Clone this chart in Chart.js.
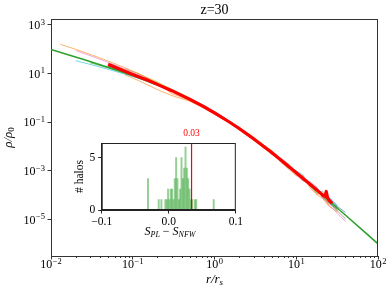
<!DOCTYPE html>
<html>
<head>
<meta charset="utf-8">
<script src="https://cdn.jsdelivr.net/npm/chart.js@4.4.0/dist/chart.umd.min.js"></script>
<style>
html,body{margin:0;padding:0;background:#fff;}
#wrap{position:relative;width:390px;height:293px;}
#main{position:absolute;left:0;top:0;}
#inset{position:absolute;left:70px;top:125px;}
</style>
</head>
<body>
<div id="wrap">
<canvas id="main" width="390" height="293"></canvas>
<canvas id="inset" width="175" height="120"></canvas>
</div>
<script>
// Perfil NFW (verde)
const nfwR = [0.01, 0.0158, 0.0251, 0.0398, 0.0631, 0.1, 0.158, 0.251, 0.398, 0.631, 1, 1.585, 2.512, 3.981, 6.31, 10, 15.85, 25.12, 39.81, 63.1, 100];
const nfwRho = [98.0, 61.1, 37.9, 23.2, 14.0, 8.26, 4.70, 2.54, 1.285, 0.596, 0.25, 0.0944, 0.0323, 0.0101, 0.00297, 8.26e-4, 2.22e-4, 5.84e-5, 1.51e-5, 3.86e-6, 9.8e-7];

// Perfil promedio (rojo)
const promR = [0.05, 0.07, 0.1, 0.15, 0.2, 0.3, 0.5, 0.7, 1, 1.5, 2, 3, 5, 7, 10, 13, 16, 19, 21, 22.5, 23.3, 24.2, 25.5, 27.5];
const promRho = [24, 15, 9.2, 5.4, 3.6, 1.98, 0.87, 0.48, 0.24, 0.104, 0.055, 0.0207, 0.0056, 0.00225, 8.3e-4, 3.95e-4, 2.2e-4, 1.35e-4, 1.0e-4, 8.8e-5, 1.4e-4, 7.5e-5, 5.9e-5, 4.5e-5];

// Halos individuales (líneas finas)
const radios = [0.013, 0.02, 0.03, 0.05, 0.08, 0.12, 0.2, 0.3, 0.5, 0.8, 1.2, 2, 3, 4, 5, 6.5, 8, 10, 12, 15, 18, 21, 25, 32, 40];
const halo1 = [160, 100, 62, 33, 17.5, 9.8, 4.1, 1.5, 0.78, 0.33, 0.146, 0.062, 0.0245, 0.0085, 0.0069, 0.0022, 0.0012, 6.2e-4, 6.4e-4, 1.8e-4, 1.08e-4, 1.18e-4, 3.8e-5, null, null];
const halo2 = [null, 88, 55, 29, 15.5, 8.9, 4.0, 2.15, 0.98, 0.43, 0.19, 0.050, 0.0183, 0.0115, 0.0047, 0.0033, 0.00185, 6.6e-4, 3.9e-4, 3.4e-4, 2.1e-4, 7.4e-5, 4.1e-5, 1.7e-5, 8.2e-6];
const halo3 = [null, 34, 24, 15, 9.5, 6.2, 3.3, 1.85, 0.82, 0.425, 0.186, 0.061, 0.0233, 0.009, 0.0064, 0.0024, 0.00131, 9.9e-4, 6.9e-4, 2.2e-4, 1.23e-4, 1.42e-4, 8.3e-5, 3.7e-5, null];
const halo4 = [null, null, 28, 17, 10.2, 6.4, 3.4, 1.96, 0.845, 0.355, 0.162, 0.060, 0.0187, 0.011, 0.0062, 0.0025, 0.0017, 7.8e-4, 4.2e-4, 3.1e-4, 1.9e-4, 7.8e-5, 5.0e-5, 2.6e-5, null];
const halo5 = [null, null, null, null, 16, 9.5, 4.6, 2.3, 1.0, 0.425, 0.186, 0.051, 0.0233, 0.0088, 0.005, 0.00315, 0.00182, 7.0e-4, 5.9e-4, 2.1e-4, 1.15e-4, 1.18e-4, 7.4e-5, 2.3e-5, null];
const halo6 = [null, null, null, 20, 12, 7.3, 3.6, 1.85, 0.83, 0.367, 0.181, 0.061, 0.0225, 0.0095, 0.0061, 0.00247, 0.00135, 9.5e-4, 5.9e-4, 2.2e-4, 1.85e-4, 8.3e-5, 4.7e-5, 2.2e-5, null];
const halo7 = [null, null, null, 19, 11.2, 6.9, 3.5, 2.02, 0.93, 0.41, 0.162, 0.053, 0.0191, 0.0105, 0.005, 0.003, 0.00172, 7.3e-4, 4.2e-4, 3.0e-4, 1.39e-4, 1.08e-4, 6.8e-5, 3.4e-5, 1.9e-5];
const halo8 = [null, null, null, null, 9.0, 5.0, 2.2, 1.25, 0.72, 0.347, 0.158, 0.058, 0.0233, 0.0115, 0.0067, 0.003, 0.00192, 9.1e-4, 4.0e-4, 2.7e-4, 1.0e-4, 7.4e-5, 3.5e-5, 2.0e-5, null];
const halo9 = [null, null, null, 21, 12.4, 7.5, 3.7, 2.05, 0.91, 0.37, 0.169, 0.057, 0.0198, 0.0095, 0.005, 0.00288, 0.00146, 9.3e-4, 5.2e-4, 2.3e-4, 1.9e-4, 9.3e-5, 7.7e-5, 3.0e-5, null];
const halo10 = [null, null, null, null, 11.5, 7.0, 3.55, 1.94, 0.87, 0.398, 0.177, 0.0545, 0.0212, 0.0097, 0.0058, 0.0026, 0.00142, 8.7e-4, 4.5e-4, 2.9e-4, 1.42e-4, 1.08e-4, 5.6e-5, 2.2e-5, 1.04e-5];
const halo11 = [null, null, null, 20.5, 12, 7.2, 3.6, 2.0, 0.89, 0.378, 0.172, 0.0567, 0.0202, 0.0108, 0.0061, 0.00266, 0.00162, 7.6e-4, 5.5e-4, 2.5e-4, 1.7e-4, 8.6e-5, 5.0e-5, null, null];
const halos = [halo1, halo2, halo3, halo4, halo5, halo6, halo7, halo8, halo9, halo10, halo11];
const coloresHalos = ['#ff7f0e', '#e377c2', '#17becf', '#2ca02c', '#bcbd22', '#7f7f7f', '#1f77b4', '#ff7f0e', '#9467bd', '#8c564b', '#d62728'];

// Histograma del inserto
const binsS = [-0.031, -0.015, -0.011, -0.005, -0.003, -0.001, 0.001, 0.003, 0.005, 0.007, 0.009, 0.011, 0.013, 0.015, 0.017, 0.019, 0.021, 0.023, 0.025, 0.027, 0.029, 0.031, 0.033, 0.035, 0.039, 0.041, 0.067];
const conteo = [3, 1, 1, 1, 1, 2, 1, 2, 2, 1, 3, 5, 3, 1, 2, 5, 3, 4, 6, 4, 3, 2, 1, 1, 1, 1, 1];
const mediaS = 0.034;

// Etiquetas de ticks
const expY = [3, 1, -1, -3, -5];
const expX = [-2, -1, 0, 1, 2];
const ticksInsetX = [-0.1, 0, 0.1];
const ticksInsetY = [0, 5];

const serif = '"Liberation Serif", "DejaVu Serif", serif';

function alfa(hex, a) {
  const n = parseInt(hex.slice(1), 16);
  return `rgba(${n >> 16},${(n >> 8) & 255},${n & 255},${a})`;
}

function potencia(ctx, exp, x, y, align) {
  const base = '10', sup = exp < 0 ? '\u2212' + (-exp) : String(exp);
  ctx.font = `12px ${serif}`;
  const wb = ctx.measureText(base).width;
  ctx.font = `8.5px ${serif}`;
  const ws = ctx.measureText(sup).width;
  const x0 = align === 'right' ? x - wb - ws - 0.5 : x - (wb + ws + 0.5) / 2;
  ctx.textAlign = 'left';
  ctx.font = `12px ${serif}`;
  ctx.fillText(base, x0, y);
  ctx.font = `8.5px ${serif}`;
  ctx.fillText(sup, x0 + wb + 0.5, y - 4.5);
}

// Dibuja texto por partes: [texto, fuente, desplazamiento y]
function partes(ctx, trozos, x, y) {
  let w = 0;
  trozos.forEach(t => { ctx.font = t[1]; w += ctx.measureText(t[0]).width; });
  let cx = x - w / 2;
  ctx.textAlign = 'left';
  trozos.forEach(t => {
    ctx.font = t[1];
    ctx.fillText(t[0], cx, y + (t[2] || 0));
    cx += ctx.measureText(t[0]).width;
  });
}

const ejesMain = {
  id: 'ejesMain',
  afterDraw(chart) {
    const { ctx, chartArea: a, scales: { x, y } } = chart;
    ctx.save();
    ctx.strokeStyle = '#333';
    ctx.lineWidth = 1;
    ctx.beginPath();
    ctx.moveTo(a.left, a.top + 0.5); ctx.lineTo(a.right, a.top + 0.5);
    ctx.moveTo(a.right - 0.5, a.top); ctx.lineTo(a.right - 0.5, a.bottom);
    // ticks menores en x
    for (let d = -2; d < 2; d++) {
      for (let k = 2; k < 10; k++) {
        const px = Math.round(x.getPixelForValue(k * Math.pow(10, d))) + 0.5;
        ctx.moveTo(px, a.bottom); ctx.lineTo(px, a.bottom + 2);
      }
    }
    ctx.stroke();
    ctx.fillStyle = '#000';
    ctx.textBaseline = 'alphabetic';
    expY.forEach(e => potencia(ctx, e, 45, y.getPixelForValue(Math.pow(10, e)) + 4.3, 'right'));
    expX.forEach(e => potencia(ctx, e, x.getPixelForValue(Math.pow(10, e)), 268, 'center'));
    // titulo
    ctx.font = `14px ${serif}`;
    ctx.textAlign = 'center';
    ctx.fillText('z=30', (a.left + a.right) / 2, 14);
    // etiqueta eje x
    const it = `italic 13px ${serif}`, sub = `italic 9px ${serif}`;
    partes(ctx, [['r/r', it], ['s', sub, 2]], (a.left + a.right) / 2, 283);
    // etiqueta eje y
    ctx.save();
    ctx.translate(12, (a.top + a.bottom) / 2);
    ctx.rotate(-Math.PI / 2);
    partes(ctx, [['\u03C1/\u03C1', it], ['0', `9px ${serif}`, 2]], 0, 0);
    ctx.restore();
    ctx.restore();
  }
};

const datasetsMain = [];
datasetsMain.push({
  data: promR.map((r, i) => ({ x: r, y: promRho[i] })),
  borderColor: '#ff0000', borderWidth: 3.2, pointRadius: 0, order: 0,
  borderJoinStyle: 'round', borderCapStyle: 'butt'
});
datasetsMain.push({
  data: nfwR.map((r, i) => ({ x: r, y: nfwRho[i] })),
  borderColor: '#2ca02c', borderWidth: 1.5, pointRadius: 0, order: 1
});
halos.forEach((h, j) => {
  datasetsMain.push({
    data: radios.map((r, i) => ({ x: r, y: h[i] })).filter(p => p.y !== null),
    borderColor: alfa(coloresHalos[j], 0.6), borderWidth: 1, pointRadius: 0, order: 2 + j
  });
});

new Chart(document.getElementById('main'), {
  type: 'line',
  data: { datasets: datasetsMain },
  options: {
    responsive: false,
    animation: false,
    layout: { padding: { top: 19, right: 12, left: 0, bottom: 0 } },
    plugins: { legend: { display: false }, tooltip: { enabled: false } },
    scales: {
      x: {
        type: 'logarithmic', min: 0.01, max: 100,
        afterBuildTicks: s => { s.ticks = expX.map(e => ({ value: Math.pow(10, e) })); },
        afterFit: s => { s.height = 37; },
        ticks: { display: false },
        grid: { drawOnChartArea: false, tickLength: 3.5, color: '#333' },
        border: { color: '#333', width: 1 }
      },
      y: {
        type: 'logarithmic', min: 3.09e-7, max: 1766,
        afterBuildTicks: s => { s.ticks = expY.map(e => ({ value: Math.pow(10, e) })); },
        afterFit: s => { s.width = 51; },
        ticks: { display: false },
        grid: { drawOnChartArea: false, tickLength: 3.5, color: '#333' },
        border: { color: '#333', width: 1 }
      }
    }
  },
  plugins: [ejesMain]
});

// Inserto: histograma
const ejesInset = {
  id: 'ejesInset',
  beforeDraw(chart) {
    const { ctx, chartArea: a } = chart;
    ctx.save();
    ctx.fillStyle = '#fff';
    ctx.fillRect(a.left, a.top, a.right - a.left, a.bottom - a.top);
    ctx.restore();
  },
  afterDraw(chart) {
    const { ctx, chartArea: a, scales: { x } } = chart;
    ctx.save();
    ctx.strokeStyle = '#222';
    ctx.lineWidth = 1;
    ctx.strokeRect(a.left + 0.5, a.top + 0.5, a.right - a.left - 1, a.bottom - a.top - 1);
    ctx.fillStyle = '#ff0000';
    ctx.font = `9.5px ${serif}`;
    ctx.textAlign = 'center';
    ctx.fillText(mediaS.toFixed(2), x.getPixelForValue(mediaS), a.top - 7);
    ctx.fillStyle = '#000';
    const it = `italic 12px ${serif}`, sub = `italic 8px ${serif}`;
    partes(ctx, [['S', it], ['PL', sub, 2], [' \u2212 ', `12px ${serif}`], ['S', it], ['NFW', sub, 2]], 100, 110);
    ctx.save();
    ctx.translate(13, (a.top + a.bottom) / 2);
    ctx.rotate(-Math.PI / 2);
    ctx.font = `11.5px ${serif}`;
    ctx.textAlign = 'center';
    ctx.fillText('# halos', 0, 0);
    ctx.restore();
    ctx.restore();
  }
};

new Chart(document.getElementById('inset'), {
  type: 'bar',
  data: {
    datasets: [
      {
        type: 'line',
        data: [{ x: mediaS, y: 0 }, { x: mediaS, y: 6.4 }],
        borderColor: '#ff0000', borderWidth: 1.2, pointRadius: 0, order: 0
      },
      {
        data: binsS.map((s, i) => ({ x: s, y: conteo[i] })),
        backgroundColor: 'rgba(44,160,44,0.5)', borderWidth: 0,
        barThickness: 1.3, order: 1
      }
    ]
  },
  options: {
    responsive: false,
    animation: false,
    layout: { padding: { top: 18, right: 6.7, left: 0, bottom: 0 } },
    plugins: { legend: { display: false }, tooltip: { enabled: false } },
    scales: {
      x: {
        type: 'linear', min: -0.1, max: 0.1, offset: false,
        afterBuildTicks: s => { s.ticks = ticksInsetX.map(v => ({ value: v })); },
        afterFit: s => { s.height = 35; },
        ticks: {
          color: '#000', font: { family: serif, size: 11.5 }, padding: 2, maxRotation: 0,
          callback: v => (v < 0 ? '\u2212' : '') + Math.abs(v).toFixed(1)
        },
        grid: { drawOnChartArea: false, tickLength: 3.5, color: '#222', offset: false },
        border: { color: '#222' }
      },
      y: {
        type: 'linear', min: 0, max: 6.4,
        afterBuildTicks: s => { s.ticks = ticksInsetY.map(v => ({ value: v })); },
        afterFit: s => { s.width = 31.7; },
        ticks: { color: '#000', font: { family: serif, size: 11.5 }, padding: 3 },
        grid: { drawOnChartArea: false, tickLength: 3.5, color: '#222' },
        border: { color: '#222' }
      }
    }
  },
  plugins: [ejesInset]
});
</script>
</body>
</html>
